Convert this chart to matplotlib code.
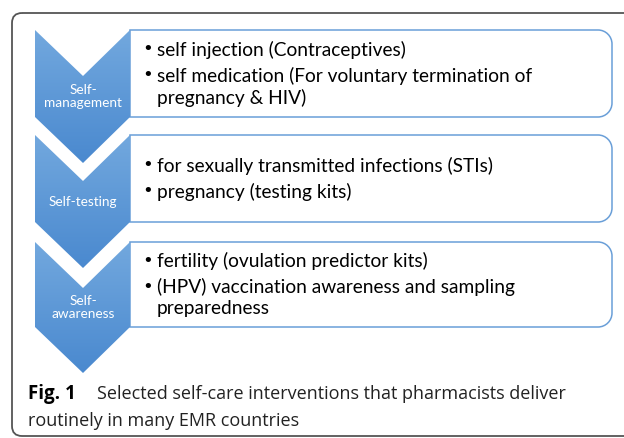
import matplotlib.pyplot as plt
import numpy as np
from matplotlib.patches import Polygon, FancyBboxPatch, PathPatch
from matplotlib.path import Path
from matplotlib.colors import LinearSegmentedColormap

# diagram content
stages = ["Self-\nmanagement", "Self-testing", "Self-\nawareness"]
items = [
    ["self injection (Contraceptives)",
     "self medication (For voluntary termination of\npregnancy & HIV)"],
    ["for sexually transmitted infections (STIs)",
     "pregnancy (testing kits)"],
    ["fertility (ovulation predictor kits)",
     "(HPV) vaccination awareness and sampling\npreparedness"],
]
caption_bold = "Fig. 1"
caption_rest = "Selected self-care interventions that pharmacists deliver"
caption_line2 = "routinely in many EMR countries"

W, H = 624, 438
fig = plt.figure(figsize=(W / 100, H / 100), dpi=100)
ax = fig.add_axes([0, 0, 1, 1])
ax.set_xlim(0, W)
ax.set_ylim(H, 0)
ax.axis("off")


def right_round_box(xa, xb, ya, yb, r):
    # square on the left, rounded on the right
    k = 0.5523 * r
    verts = [(xa, ya), (xb - r, ya),
             (xb - r + k, ya), (xb, ya + r - k), (xb, ya + r),
             (xb, yb - r),
             (xb, yb - r + k), (xb - r + k, yb), (xb - r, yb),
             (xa, yb), (xa, ya)]
    codes = [Path.MOVETO, Path.LINETO,
             Path.CURVE4, Path.CURVE4, Path.CURVE4,
             Path.LINETO,
             Path.CURVE4, Path.CURVE4, Path.CURVE4,
             Path.LINETO, Path.CLOSEPOLY]
    return Path(verts, codes)


# outer frame (runs off right edge)
frame = FancyBboxPatch((12, 13), 700, 423, boxstyle="round,pad=0,rounding_size=10",
                       fc="none", ec="#555555", lw=1.3)
ax.add_patch(frame)

cmap = LinearSegmentedColormap.from_list("blu", ["#72a8de", "#4a89cf"])
tops = [30, 135, 242]
box_bottoms = [117, 222, 327]
x0, x1, xm = 35, 130, 83
notch = 46
gap_bullet = 26
gap_wrap = 22
font = "Lato"

for i, (lab, its) in enumerate(zip(stages, items)):
    top = tops[i]
    bot = box_bottoms[i]
    box = PathPatch(right_round_box(x1, 612, top, bot, 14),
                    fc="white", ec="#6a9fd8", lw=1.1, zorder=1)
    ax.add_patch(box)
    # chevron
    pts = [(x0, top), (xm, top + notch), (x1, top), (x1, bot),
           (xm, bot + notch), (x0, bot)]
    chev = Polygon(pts, closed=True, fc="none", ec="none", zorder=3)
    ax.add_patch(chev)
    grad = np.linspace(0, 1, 100).reshape(-1, 1)
    im = ax.imshow(grad, cmap=cmap, extent=(x0, x1, bot + notch, top),
                   aspect="auto", zorder=2)
    im.set_clip_path(chev)
    ymid = (top + notch + bot) / 2
    ax.text(xm, ymid, lab, color="white", ha="center", va="center",
            fontsize=9.8, family=font, linespacing=1.1, zorder=4)
    # bullets
    lines = []
    y = 0
    for t in its:
        for k, line in enumerate(t.split("\n")):
            lines.append((y, line, k == 0))
            y += gap_wrap
        y += gap_bullet - gap_wrap
    span = lines[-1][0]
    y0 = (top + bot) / 2 - span / 2
    for dy, line, first in lines:
        if first:
            ax.text(142, y0 + dy, "\u2022", fontsize=13, va="center", ha="left",
                    family="DejaVu Sans", zorder=4)
        ax.text(157, y0 + dy, line, fontsize=13.8, va="center", ha="left",
                family=font, zorder=4)

# caption
ax.text(28, 394, caption_bold, fontsize=13.5, fontweight="bold",
        va="center", ha="left", family="Open Sans")
ax.text(97, 394, caption_rest, fontsize=13, va="center", ha="left",
        family="Open Sans", color="#222222")
ax.text(28, 421, caption_line2, fontsize=13, va="center", ha="left",
        family="Open Sans", color="#222222")

fig.savefig("out.png", dpi=100)
